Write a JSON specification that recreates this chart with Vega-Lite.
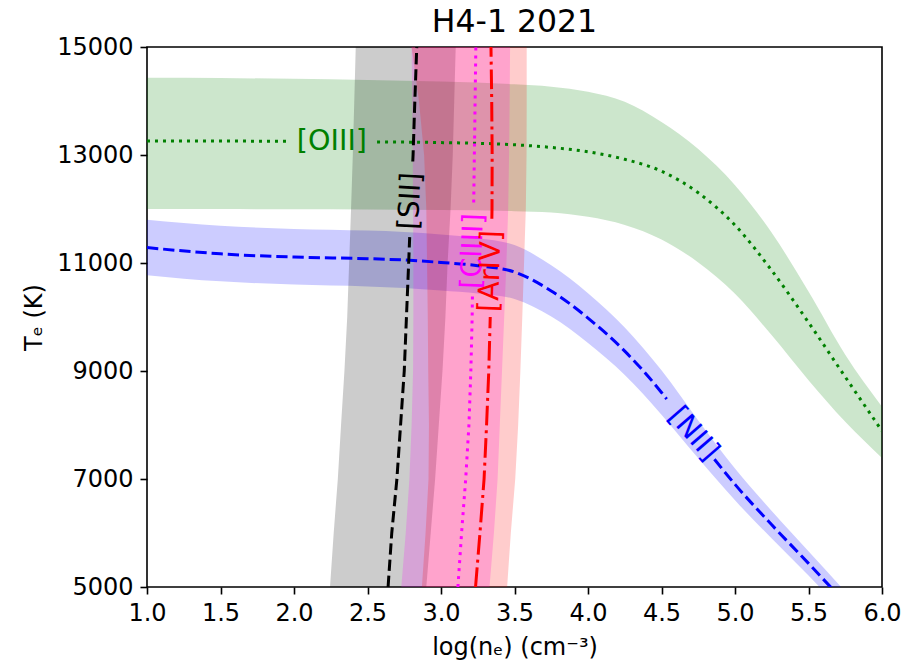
{
  "$schema": "https://vega.github.io/schema/vega-lite/v6.json",
  "width": 735,
  "height": 540,
  "autosize": {"type": "none"},
  "padding": {"left": 147, "top": 47, "right": 24, "bottom": 84},
  "background": "white",
  "title": {"text": "H4-1 2021", "fontSize": 31.5, "font": "DejaVu Sans", "fontWeight": "normal", "color": "black", "offset": 5, "dy": 40, "baseline": "bottom", "anchor": "middle", "frame": "group"},
  "config": {
    "view": {"stroke": "black", "strokeWidth": 1.6},
    "axis": {"grid": false, "domain": false, "tickColor": "black", "tickWidth": 1.6, "tickSize": 7, "labelFont": "DejaVu Sans", "labelFontSize": 24, "labelColor": "black", "labelPadding": 7, "labelFlush": false, "labelOverlap": false, "titleFont": "DejaVu Sans", "titleFontSize": 24, "titleFontWeight": "normal", "titleColor": "black"},
    "text": {"font": "DejaVu Sans"}
  },
  "datasets": {
    "oiii": [
      {"n": 1.0, "t": 13260, "tlo": 12000, "thi": 14430},
      {"n": 1.5, "t": 13258, "tlo": 11998, "thi": 14425},
      {"n": 2.0, "t": 13255, "tlo": 11995, "thi": 14410},
      {"n": 2.5, "t": 13245, "tlo": 11990, "thi": 14390},
      {"n": 3.0, "t": 13230, "tlo": 11980, "thi": 14360},
      {"n": 3.5, "t": 13190, "tlo": 11960, "thi": 14310},
      {"n": 3.75, "t": 13140, "tlo": 11935, "thi": 14265},
      {"n": 4.0, "t": 13060, "tlo": 11855, "thi": 14170},
      {"n": 4.25, "t": 12920, "tlo": 11705, "thi": 13985},
      {"n": 4.5, "t": 12700, "tlo": 11435, "thi": 13610},
      {"n": 4.75, "t": 12300, "tlo": 11010, "thi": 13110},
      {"n": 5.0, "t": 11700, "tlo": 10430, "thi": 12440},
      {"n": 5.25, "t": 10860, "tlo": 9660, "thi": 11560},
      {"n": 5.5, "t": 9900, "tlo": 8830, "thi": 10470},
      {"n": 5.75, "t": 8890, "tlo": 8060, "thi": 9300},
      {"n": 6.0, "t": 7890, "tlo": 7390, "thi": 8340}
    ],
    "oiiiLine": [
      {"seg": 1, "n": 1.0, "t": 13260},
      {"seg": 1, "n": 1.5, "t": 13258},
      {"seg": 1, "n": 1.95, "t": 13255},
      {"seg": 2, "n": 2.565, "t": 13243},
      {"seg": 2, "n": 3.0, "t": 13230},
      {"seg": 2, "n": 3.5, "t": 13190},
      {"seg": 2, "n": 3.75, "t": 13140},
      {"seg": 2, "n": 4.0, "t": 13060},
      {"seg": 2, "n": 4.25, "t": 12920},
      {"seg": 2, "n": 4.5, "t": 12700},
      {"seg": 2, "n": 4.75, "t": 12300},
      {"seg": 2, "n": 5.0, "t": 11700},
      {"seg": 2, "n": 5.25, "t": 10860},
      {"seg": 2, "n": 5.5, "t": 9900},
      {"seg": 2, "n": 5.75, "t": 8890},
      {"seg": 2, "n": 6.0, "t": 7890}
    ],
    "nii": [
      {"n": 1.0, "t": 11285, "tlo": 10775, "thi": 11800},
      {"n": 1.5, "t": 11170, "tlo": 10660, "thi": 11690},
      {"n": 2.0, "t": 11110, "tlo": 10600, "thi": 11630},
      {"n": 2.5, "t": 11080, "tlo": 10565, "thi": 11600},
      {"n": 2.75, "t": 11055, "tlo": 10535, "thi": 11575},
      {"n": 3.0, "t": 11010, "tlo": 10490, "thi": 11530},
      {"n": 3.25, "t": 10950, "tlo": 10435, "thi": 11460},
      {"n": 3.5, "t": 10833, "tlo": 10333, "thi": 11333},
      {"n": 3.75, "t": 10483, "tlo": 10008, "thi": 10958},
      {"n": 4.0, "t": 9980, "tlo": 9520, "thi": 10440},
      {"n": 4.25, "t": 9367, "tlo": 8927, "thi": 9807},
      {"n": 4.5, "t": 8602, "tlo": 8192, "thi": 9012},
      {"n": 4.75, "t": 7733, "tlo": 7383, "thi": 8083},
      {"n": 5.0, "t": 6900, "tlo": 6605, "thi": 7195},
      {"n": 5.25, "t": 6152, "tlo": 5897, "thi": 6407},
      {"n": 5.5, "t": 5437, "tlo": 5212, "thi": 5662},
      {"n": 5.75, "t": 4706, "tlo": 4496, "thi": 4916}
    ],
    "niiLine": [
      {"seg": 1, "n": 1.0, "t": 11285},
      {"seg": 1, "n": 1.5, "t": 11170},
      {"seg": 1, "n": 2.0, "t": 11110},
      {"seg": 1, "n": 2.5, "t": 11080},
      {"seg": 1, "n": 2.75, "t": 11055},
      {"seg": 1, "n": 3.0, "t": 11010},
      {"seg": 1, "n": 3.25, "t": 10950},
      {"seg": 1, "n": 3.5, "t": 10833},
      {"seg": 1, "n": 3.75, "t": 10483},
      {"seg": 1, "n": 4.0, "t": 9980},
      {"seg": 1, "n": 4.25, "t": 9367},
      {"seg": 1, "n": 4.5, "t": 8602},
      {"seg": 1, "n": 4.535, "t": 8480},
      {"seg": 2, "n": 4.86, "t": 7366},
      {"seg": 2, "n": 5.0, "t": 6900},
      {"seg": 2, "n": 5.25, "t": 6152},
      {"seg": 2, "n": 5.5, "t": 5437},
      {"seg": 2, "n": 5.75, "t": 4706}
    ],
    "sii": [
      {"t": 5000, "n": 2.64, "nlo": 2.245, "nhi": 2.9},
      {"t": 6000, "n": 2.665, "nlo": 2.27, "nhi": 2.93},
      {"t": 7000, "n": 2.7, "nlo": 2.298, "nhi": 2.96},
      {"t": 8000, "n": 2.725, "nlo": 2.32, "nhi": 2.985},
      {"t": 9000, "n": 2.75, "nlo": 2.343, "nhi": 3.01},
      {"t": 10000, "n": 2.765, "nlo": 2.362, "nhi": 3.03},
      {"t": 11000, "n": 2.78, "nlo": 2.375, "nhi": 3.045},
      {"t": 12000, "n": 2.795, "nlo": 2.388, "nhi": 3.065},
      {"t": 13000, "n": 2.81, "nlo": 2.4, "nhi": 3.08},
      {"t": 14000, "n": 2.822, "nlo": 2.41, "nhi": 3.09},
      {"t": 15000, "n": 2.835, "nlo": 2.42, "nhi": 3.1}
    ],
    "siiLine": [
      {"seg": 1, "t": 5000, "n": 2.64},
      {"seg": 1, "t": 6000, "n": 2.665},
      {"seg": 1, "t": 7000, "n": 2.7},
      {"seg": 1, "t": 8000, "n": 2.725},
      {"seg": 1, "t": 9000, "n": 2.75},
      {"seg": 1, "t": 10000, "n": 2.765},
      {"seg": 1, "t": 11000, "n": 2.78},
      {"seg": 1, "t": 11480, "n": 2.787},
      {"seg": 2, "t": 12880, "n": 2.808},
      {"seg": 2, "t": 13000, "n": 2.81},
      {"seg": 2, "t": 14000, "n": 2.822},
      {"seg": 2, "t": 15000, "n": 2.835}
    ],
    "cliii": [
      {"t": 5000, "n": 3.115, "nlo": 2.73, "nhi": 3.33},
      {"t": 6000, "n": 3.14, "nlo": 2.76, "nhi": 3.36},
      {"t": 7000, "n": 3.168, "nlo": 2.785, "nhi": 3.385},
      {"t": 8000, "n": 3.19, "nlo": 2.8, "nhi": 3.4},
      {"t": 9000, "n": 3.203, "nlo": 2.81, "nhi": 3.415},
      {"t": 10000, "n": 3.212, "nlo": 2.812, "nhi": 3.43},
      {"t": 11000, "n": 3.218, "nlo": 2.812, "nhi": 3.445},
      {"t": 12000, "n": 3.222, "nlo": 2.81, "nhi": 3.457},
      {"t": 13000, "n": 3.227, "nlo": 2.808, "nhi": 3.463},
      {"t": 14000, "n": 3.232, "nlo": 2.804, "nhi": 3.467},
      {"t": 15000, "n": 3.237, "nlo": 2.8, "nhi": 3.47}
    ],
    "cliiiLine": [
      {"seg": 1, "t": 5000, "n": 3.115},
      {"seg": 1, "t": 6000, "n": 3.14},
      {"seg": 1, "t": 7000, "n": 3.168},
      {"seg": 1, "t": 8000, "n": 3.19},
      {"seg": 1, "t": 9000, "n": 3.203},
      {"seg": 1, "t": 10000, "n": 3.212},
      {"seg": 1, "t": 10420, "n": 3.214},
      {"seg": 2, "t": 12120, "n": 3.2225},
      {"seg": 2, "t": 13000, "n": 3.227},
      {"seg": 2, "t": 14000, "n": 3.232},
      {"seg": 2, "t": 15000, "n": 3.237}
    ],
    "ariv": [
      {"t": 5000, "n": 3.235, "nlo": 2.87, "nhi": 3.45},
      {"t": 6000, "n": 3.265, "nlo": 2.895, "nhi": 3.475},
      {"t": 7000, "n": 3.293, "nlo": 2.915, "nhi": 3.505},
      {"t": 8000, "n": 3.31, "nlo": 2.918, "nhi": 3.525},
      {"t": 9000, "n": 3.325, "nlo": 2.913, "nhi": 3.54},
      {"t": 10000, "n": 3.335, "nlo": 2.91, "nhi": 3.553},
      {"t": 11000, "n": 3.342, "nlo": 2.905, "nhi": 3.565},
      {"t": 12000, "n": 3.347, "nlo": 2.9, "nhi": 3.577},
      {"t": 13000, "n": 3.348, "nlo": 2.885, "nhi": 3.582},
      {"t": 14000, "n": 3.345, "nlo": 2.85, "nhi": 3.583},
      {"t": 15000, "n": 3.34, "nlo": 2.8, "nhi": 3.583}
    ],
    "arivLine": [
      {"seg": 1, "t": 5000, "n": 3.235},
      {"seg": 1, "t": 6000, "n": 3.265},
      {"seg": 1, "t": 7000, "n": 3.293},
      {"seg": 1, "t": 8000, "n": 3.31},
      {"seg": 1, "t": 9000, "n": 3.325},
      {"seg": 1, "t": 10000, "n": 3.335},
      {"seg": 2, "t": 11820, "n": 3.346},
      {"seg": 2, "t": 12000, "n": 3.347},
      {"seg": 2, "t": 13000, "n": 3.348},
      {"seg": 2, "t": 14000, "n": 3.345},
      {"seg": 2, "t": 15000, "n": 3.34}
    ]
  },
  "layer": [
    {
      "data": {"name": "oiii"},
      "mark": {"type": "area", "fill": "#008000", "opacity": 0.2, "interpolate": "monotone", "clip": true},
      "encoding": {
        "x": {"field": "n", "type": "quantitative", "scale": {"domain": [1, 6], "nice": false, "zero": false}, "title": "log(nₑ) (cm⁻³)", "axis": {"values": [1, 1.5, 2, 2.5, 3, 3.5, 4, 4.5, 5, 5.5, 6], "format": ".1f", "titlePadding": 10}},
        "y": {"field": "tlo", "type": "quantitative", "scale": {"domain": [5000, 15000], "nice": false, "zero": false}, "title": "Tₑ (K)", "axis": {"values": [5000, 7000, 9000, 11000, 13000, 15000], "format": "d", "titlePadding": 10}},
        "y2": {"field": "thi"}
      }
    },
    {
      "data": {"name": "nii"},
      "mark": {"type": "area", "fill": "#0000ff", "opacity": 0.2, "interpolate": "monotone", "clip": true},
      "encoding": {
        "x": {"field": "n", "type": "quantitative", "title": "log(nₑ) (cm⁻³)"},
        "y": {"field": "tlo", "type": "quantitative", "title": "Tₑ (K)"},
        "y2": {"field": "thi"}
      }
    },
    {
      "data": {"name": "sii"},
      "mark": {"type": "area", "orient": "horizontal", "fill": "#000000", "opacity": 0.2, "clip": true},
      "encoding": {
        "y": {"field": "t", "type": "quantitative", "title": "Tₑ (K)"},
        "x": {"field": "nlo", "type": "quantitative", "title": "log(nₑ) (cm⁻³)"},
        "x2": {"field": "nhi"}
      }
    },
    {
      "data": {"name": "cliii"},
      "mark": {"type": "area", "orient": "horizontal", "fill": "#ff00ff", "opacity": 0.2, "clip": true},
      "encoding": {
        "y": {"field": "t", "type": "quantitative", "title": "Tₑ (K)"},
        "x": {"field": "nlo", "type": "quantitative", "title": "log(nₑ) (cm⁻³)"},
        "x2": {"field": "nhi"}
      }
    },
    {
      "data": {"name": "ariv"},
      "mark": {"type": "area", "orient": "horizontal", "fill": "#ff0000", "opacity": 0.2, "clip": true},
      "encoding": {
        "y": {"field": "t", "type": "quantitative", "title": "Tₑ (K)"},
        "x": {"field": "nlo", "type": "quantitative", "title": "log(nₑ) (cm⁻³)"},
        "x2": {"field": "nhi"}
      }
    },
    {
      "data": {"name": "oiiiLine"},
      "mark": {"type": "line", "color": "#008000", "strokeWidth": 3, "strokeDash": [3, 5], "interpolate": "monotone", "clip": true},
      "encoding": {
        "x": {"field": "n", "type": "quantitative", "title": "log(nₑ) (cm⁻³)"},
        "y": {"field": "t", "type": "quantitative", "title": "Tₑ (K)"},
        "detail": {"field": "seg", "type": "nominal"}
      }
    },
    {
      "data": {"name": "niiLine"},
      "mark": {"type": "line", "color": "#0000ff", "strokeWidth": 3, "strokeDash": [11.3, 4.9], "interpolate": "monotone", "clip": true},
      "encoding": {
        "x": {"field": "n", "type": "quantitative", "title": "log(nₑ) (cm⁻³)"},
        "y": {"field": "t", "type": "quantitative", "title": "Tₑ (K)"},
        "detail": {"field": "seg", "type": "nominal"}
      }
    },
    {
      "data": {"name": "siiLine"},
      "mark": {"type": "line", "color": "#000000", "strokeWidth": 3, "strokeDash": [11.3, 4.9], "clip": true},
      "encoding": {
        "x": {"field": "n", "type": "quantitative", "title": "log(nₑ) (cm⁻³)"},
        "y": {"field": "t", "type": "quantitative", "title": "Tₑ (K)"},
        "order": {"field": "t", "type": "quantitative"},
        "detail": {"field": "seg", "type": "nominal"}
      }
    },
    {
      "data": {"name": "cliiiLine"},
      "mark": {"type": "line", "color": "#ff00ff", "strokeWidth": 3, "strokeDash": [3, 5], "clip": true},
      "encoding": {
        "x": {"field": "n", "type": "quantitative", "title": "log(nₑ) (cm⁻³)"},
        "y": {"field": "t", "type": "quantitative", "title": "Tₑ (K)"},
        "order": {"field": "t", "type": "quantitative"},
        "detail": {"field": "seg", "type": "nominal"}
      }
    },
    {
      "data": {"name": "arivLine"},
      "mark": {"type": "line", "color": "#ff0000", "strokeWidth": 3, "strokeDash": [19.6, 4.9, 3, 4.9], "clip": true},
      "encoding": {
        "x": {"field": "n", "type": "quantitative", "title": "log(nₑ) (cm⁻³)"},
        "y": {"field": "t", "type": "quantitative", "title": "Tₑ (K)"},
        "order": {"field": "t", "type": "quantitative"},
        "detail": {"field": "seg", "type": "nominal"}
      }
    },
    {
      "data": {"values": [{"label": "[OIII]", "n": 2.258, "t": 13255}]},
      "mark": {"type": "text", "color": "#008000", "fontSize": 28.6, "align": "center", "baseline": "middle", "angle": 0},
      "encoding": {"x": {"field": "n", "type": "quantitative", "title": "log(nₑ) (cm⁻³)"}, "y": {"field": "t", "type": "quantitative", "title": "Tₑ (K)"}, "text": {"field": "label"}}
    },
    {
      "data": {"values": [{"label": "[NII]", "n": 4.72, "t": 7840}]},
      "mark": {"type": "text", "color": "#0000ff", "fontSize": 28.6, "align": "center", "baseline": "middle", "angle": 49},
      "encoding": {"x": {"field": "n", "type": "quantitative", "title": "log(nₑ) (cm⁻³)"}, "y": {"field": "t", "type": "quantitative", "title": "Tₑ (K)"}, "text": {"field": "label"}}
    },
    {
      "data": {"values": [{"label": "[SII]", "n": 2.79, "t": 12150}]},
      "mark": {"type": "text", "color": "#000000", "fontSize": 28.6, "align": "center", "baseline": "middle", "angle": 273},
      "encoding": {"x": {"field": "n", "type": "quantitative", "title": "log(nₑ) (cm⁻³)"}, "y": {"field": "t", "type": "quantitative", "title": "Tₑ (K)"}, "text": {"field": "label"}}
    },
    {
      "data": {"values": [{"label": "[ClIII]", "n": 3.215, "t": 11220}]},
      "mark": {"type": "text", "color": "#ff00ff", "fontSize": 28.6, "align": "center", "baseline": "middle", "angle": 272},
      "encoding": {"x": {"field": "n", "type": "quantitative", "title": "log(nₑ) (cm⁻³)"}, "y": {"field": "t", "type": "quantitative", "title": "Tₑ (K)"}, "text": {"field": "label"}}
    },
    {
      "data": {"values": [{"label": "[ArIV]", "n": 3.335, "t": 10850}]},
      "mark": {"type": "text", "color": "#ff0000", "fontSize": 28.6, "align": "center", "baseline": "middle", "angle": 272},
      "encoding": {"x": {"field": "n", "type": "quantitative", "title": "log(nₑ) (cm⁻³)"}, "y": {"field": "t", "type": "quantitative", "title": "Tₑ (K)"}, "text": {"field": "label"}}
    }
  ]
}
